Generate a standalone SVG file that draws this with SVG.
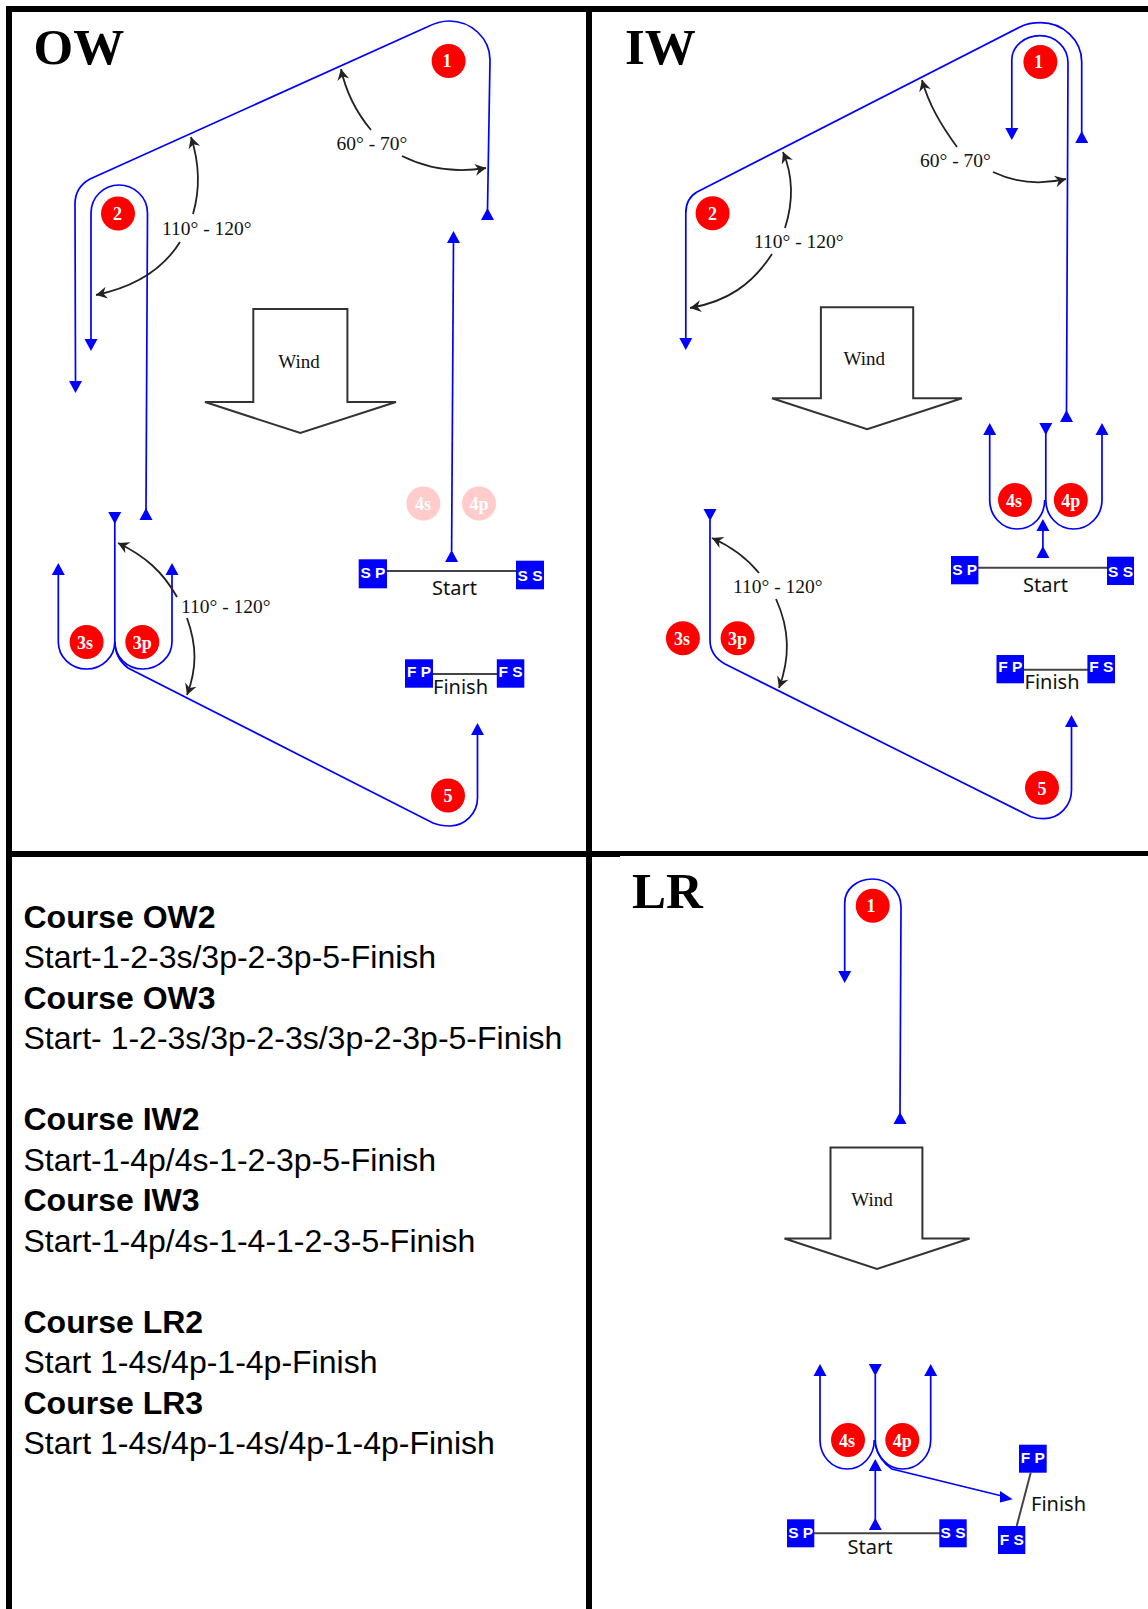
<svg xmlns="http://www.w3.org/2000/svg" width="1148" height="1609" viewBox="0 0 1148 1609">
<style>
.f{fill:#000}
.b{fill:none;stroke:#0000ff;stroke-width:1.7}
.k{fill:none;stroke:#222;stroke-width:1.8;marker-end:url(#o)}
.w{fill:#fff;stroke:#333;stroke-width:2}
.m{fill:#0000ff}
.c{fill:#ff0000}
.n{font-family:"Liberation Serif",serif;font-size:18px;font-weight:bold;fill:#fff;text-anchor:middle}
.a{font-family:"Liberation Serif",serif;font-size:19.5px;fill:#111}
.wt{font-family:"Liberation Serif",serif;font-size:19px;fill:#111;text-anchor:middle}
.t{font-family:"Liberation Serif",serif;font-size:51px;font-weight:bold;fill:#000}
.l{font-family:"Noto Sans",sans-serif;font-size:20px;fill:#111}
.q{font-family:"Liberation Sans",sans-serif;font-size:15.5px;font-weight:bold;fill:#fff;text-anchor:middle}
.s{stroke:#444;stroke-width:2}
.h{font-family:"Liberation Sans",sans-serif;font-size:32px;fill:#000}
.hb{font-weight:bold}
</style>
<defs>
<marker id="o" markerUnits="userSpaceOnUse" markerWidth="15" markerHeight="15" refX="12" refY="6.500" orient="auto"><path d="M1 0.500L12 6.500L1 12.500L4.500 6.500Z" fill="#222"/></marker>
<path id="up" d="M0 0L-6.500 12H6.500Z" class="m"/>
<path id="dn" d="M0 12L-6.500 0H6.500Z" class="m"/>
</defs>
<rect width="1148" height="1609" fill="#fff"/>
<g id="frame">
<rect class="f" x="6" y="6" width="1142" height="6"/>
<rect class="f" x="6" y="6" width="6" height="1603"/>
<rect class="f" x="586" y="6" width="6" height="1603"/>
<rect class="f" x="6" y="851" width="614" height="6"/>
<rect class="f" x="620" y="851" width="528" height="5"/>
</g>
<g id="connectors">
<!-- OW -->
<path class="b" d="M487.500 210L490 60C490 38 471 21 449 21C441 21 433 24 427 27L90 179C81 184 75 193 75 204L75.500 382"/>
<path class="b" d="M146 510L147.500 213C147.500 197 134 185 119 185C104 185 91 197 91 213L91 340"/>
<path class="b" d="M453.500 241L451.600 551"/>
<path class="b" d="M58.300 574V641.700C58.300 657 71 669 86.600 669C102 669 114.800 657 114.800 641.700V520"/>
<path class="b" d="M114.800 641.700C114.800 657 127 669 143 669C158 669 172 657 172 641.700V574"/>
<path class="b" d="M114.800 641.700C115 653 120 662 128 668L433 823C438 825 444 826 449.700 826C465 826 477.500 813 477.500 798V733"/>
<use href="#up" x="487.500" y="208"/><use href="#dn" x="91" y="339"/><use href="#dn" x="75.500" y="381"/>
<use href="#up" x="453.500" y="231"/><use href="#up" x="451.600" y="550"/><use href="#up" x="146" y="508"/>
<use href="#dn" x="114.800" y="512"/><use href="#up" x="58.300" y="563"/><use href="#up" x="172" y="563"/><use href="#up" x="477.500" y="723"/>
<path class="k" d="M371 130C356 112 346 92 341 69"/>
<path class="k" d="M402 156C428 169 456 173 486 168"/>
<path class="k" d="M193 214C200 190 200 165 191 137"/>
<path class="k" d="M180 242C162 271 134 287 96 295"/>
<path class="k" d="M177 597C163 572 145 556 118 543"/>
<path class="k" d="M187 618C197 646 197 668 187 695"/>
<!-- IW -->
<path class="b" d="M1081.700 133V61.700C1081.700 40 1063 22.700 1040.700 22.700C1033 22.700 1026 24 1020 27L697 192C690 196 685.800 204 685.800 213V340"/>
<path class="b" d="M1011.800 130V60C1011.800 46 1025 35.700 1040 35.700C1055 35.700 1068 47 1068 63L1066.500 413"/>
<path class="b" d="M989.700 433V500C989.700 516 1002 529 1017 529C1033 529 1044.700 516 1044.700 500"/>
<path class="b" d="M1045.800 425V500C1045.800 516 1058 529 1073.700 529C1089 529 1102 516 1102 500V433"/>
<path class="b" d="M1042.900 530V548"/>
<path class="b" d="M710 520V640C710 651 716 659 725 664L1031 816.700C1035 818 1039 818.700 1043.600 818.700C1059 818.700 1071.500 806 1071.500 790V725"/>
<use href="#up" x="1081.700" y="131"/><use href="#dn" x="1011.800" y="128"/><use href="#up" x="1066.500" y="410"/><use href="#dn" x="685.800" y="338"/>
<use href="#up" x="989.700" y="423"/><use href="#dn" x="1045.800" y="423"/><use href="#up" x="1102" y="423"/>
<use href="#up" x="1042.900" y="519"/><use href="#up" x="1042.900" y="546"/><use href="#dn" x="710" y="509"/><use href="#up" x="1071.500" y="715"/>
<path class="k" d="M957 147C941 125 929 105 922 80"/>
<path class="k" d="M993 172C1016 183 1040 185 1066 179"/>
<path class="k" d="M785 228C793 203 794 178 783 152"/>
<path class="k" d="M772 254C752 285 726 302 690 308"/>
<path class="k" d="M759 573C746 557 730 546 712 538"/>
<path class="k" d="M776 599C790 630 790 658 779 688"/>
<!-- LR -->
<path class="b" d="M844.700 972V903C844.700 889 857 879 872.300 879C889 879 901 892 901 906.700L900 1114"/>
<path class="b" d="M820 1375V1440C820 1456 832 1469 847.300 1469C862 1469 874.300 1456 874.300 1440"/>
<path class="b" d="M875.300 1375V1440C875.300 1456 888 1469 902.700 1469C918 1469 930.700 1456 930.700 1440V1375"/>
<path class="b" d="M875.300 1445C878 1456 883 1463 892 1469L1002 1496"/>
<path class="b" d="M875.300 1471V1520"/>
<use href="#dn" x="844.700" y="971"/><use href="#up" x="900" y="1112"/>
<use href="#up" x="820" y="1364"/><use href="#dn" x="875.300" y="1364"/><use href="#up" x="930.700" y="1364"/>
<use href="#up" x="875.300" y="1459"/><use href="#up" x="875.300" y="1518"/>
<path class="m" d="M1012.700 1499.300L1000 1491L1000 1502.500Z"/>
</g>
<g id="titles">
<text class="t" x="33.500" y="64">OW</text>
<text class="t" x="625" y="64">IW</text>
<text class="t" x="632" y="908">LR</text>
</g>
<g id="angles">
<text class="a" x="162" y="235">110° - 120°</text>
<text class="a" x="336.500" y="149.500">60° - 70°</text>
<text class="a" x="181" y="612.700">110° - 120°</text>
<text class="a" x="920" y="166.500">60° - 70°</text>
<text class="a" x="754" y="248">110° - 120°</text>
<text class="a" x="733" y="592.700">110° - 120°</text>
</g>
<g id="wind-ow"><path class="w" d="M253.300 309H347.400V402H396L300.300 433L205 402H253.300Z"/><text class="wt" x="299" y="368">Wind</text></g>
<g id="wind-iw"><path class="w" d="M820.900 307.300H913.200V398.300H962L867.200 429.300L772 398.300H820.900Z"/><text class="wt" x="864.300" y="365">Wind</text></g>
<g id="wind-lr"><path class="w" d="M830.500 1147.500H922.400V1238.500H969.600L877 1269L784.500 1238.500H830.500Z"/><text class="wt" x="872" y="1205.600">Wind</text></g>
<g id="ow-1"><circle class="c" cx="448.600" cy="61" r="17"/><text class="n" x="447" y="67">1</text></g>
<g id="ow-2"><circle class="c" cx="118" cy="213.500" r="17"/><text class="n" x="117.500" y="219.500">2</text></g>
<g id="ow-3s"><circle class="c" cx="86.600" cy="642" r="17"/><text class="n" x="85" y="648.500">3s</text></g>
<g id="ow-3p"><circle class="c" cx="142.300" cy="642" r="17"/><text class="n" x="142.300" y="648.500">3p</text></g>
<g id="ow-4s" opacity="0.2"><circle class="c" cx="423.400" cy="503.500" r="17"/><text class="n" x="423" y="510">4s</text></g>
<g id="ow-4p" opacity="0.2"><circle class="c" cx="479" cy="503.500" r="17"/><text class="n" x="479" y="510">4p</text></g>
<g id="ow-5"><circle class="c" cx="448" cy="795.500" r="17"/><text class="n" x="448" y="802">5</text></g>
<g id="iw-1"><circle class="c" cx="1040.400" cy="62" r="17"/><text class="n" x="1038.500" y="68">1</text></g>
<g id="iw-2"><circle class="c" cx="712.600" cy="213.300" r="17"/><text class="n" x="712.600" y="219.500">2</text></g>
<g id="iw-3s"><circle class="c" cx="682.900" cy="638.300" r="17"/><text class="n" x="682" y="645">3s</text></g>
<g id="iw-3p"><circle class="c" cx="737.600" cy="638.300" r="17"/><text class="n" x="737.600" y="645">3p</text></g>
<g id="iw-4s"><circle class="c" cx="1015" cy="500" r="17"/><text class="n" x="1014" y="506.500">4s</text></g>
<g id="iw-4p"><circle class="c" cx="1070.800" cy="500" r="17"/><text class="n" x="1070.800" y="506.500">4p</text></g>
<g id="iw-5"><circle class="c" cx="1042" cy="787.700" r="17"/><text class="n" x="1042" y="794.500">5</text></g>
<g id="lr-1"><circle class="c" cx="872.700" cy="905.700" r="17"/><text class="n" x="871" y="912">1</text></g>
<g id="lr-4s"><circle class="c" cx="848" cy="1440" r="17"/><text class="n" x="847" y="1446.500">4s</text></g>
<g id="lr-4p"><circle class="c" cx="902.300" cy="1440" r="17"/><text class="n" x="902.300" y="1446.500">4p</text></g>
<g id="ow-start">
<line class="s" x1="387" y1="571" x2="516" y2="571"/>
<rect class="m" x="358.700" y="559.300" width="28.300" height="29"/><text class="q" x="372.900" y="578">S P</text>
<rect class="m" x="516" y="560.700" width="28" height="28.600"/><text class="q" x="530" y="581">S S</text>
<text class="l" x="432" y="595">Start</text>
</g>
<g id="ow-finish">
<line class="s" x1="433" y1="674" x2="497" y2="674"/>
<rect class="m" x="405" y="659.300" width="28" height="28.400"/><text class="q" x="419" y="677">F P</text>
<rect class="m" x="496.800" y="659.300" width="27.500" height="28.400"/><text class="q" x="510.500" y="677">F S</text>
<text class="l" x="433" y="694">Finish</text>
</g>
<g id="iw-start">
<line class="s" x1="978" y1="567.700" x2="1107" y2="567.700"/>
<rect class="m" x="951" y="556" width="27.400" height="28.300"/><text class="q" x="964.700" y="575">S P</text>
<rect class="m" x="1107" y="556.700" width="27" height="28.300"/><text class="q" x="1120.500" y="577">S S</text>
<text class="l" x="1023" y="591.700">Start</text>
</g>
<g id="iw-finish">
<line class="s" x1="1024" y1="669.700" x2="1088" y2="669.700"/>
<rect class="m" x="996.500" y="655" width="27.500" height="28.300"/><text class="q" x="1010.200" y="672.300">F P</text>
<rect class="m" x="1087.400" y="655" width="27.600" height="28.300"/><text class="q" x="1101.200" y="672.300">F S</text>
<text class="l" x="1024.500" y="689.300">Finish</text>
</g>
<g id="lr-start">
<line class="s" x1="814" y1="1533.300" x2="940" y2="1533.300"/>
<rect class="m" x="787" y="1519.300" width="27.300" height="28"/><text class="q" x="800.700" y="1538">S P</text>
<rect class="m" x="939.300" y="1519.300" width="27.400" height="28"/><text class="q" x="953" y="1538">S S</text>
<text class="l" x="847.500" y="1554">Start</text>
</g>
<g id="lr-finish">
<line class="s" x1="1030.700" y1="1472.700" x2="1016.700" y2="1526"/>
<rect class="m" x="1019" y="1444.700" width="27.700" height="28"/><text class="q" x="1032.800" y="1463.300">F P</text>
<rect class="m" x="998" y="1526" width="27.300" height="28"/><text class="q" x="1011.700" y="1545">F S</text>
<text class="l" x="1031" y="1510.700">Finish</text>
</g>
<g id="course-list">
<text class="h hb" x="23.500" y="927.500">Course OW2</text>
<text class="h" x="23.500" y="968">Start-1-2-3s/3p-2-3p-5-Finish</text>
<text class="h hb" x="23.500" y="1008.500">Course OW3</text>
<text class="h" x="23.500" y="1049">Start- 1-2-3s/3p-2-3s/3p-2-3p-5-Finish</text>
<text class="h hb" x="23.500" y="1130">Course IW2</text>
<text class="h" x="23.500" y="1170.500">Start-1-4p/4s-1-2-3p-5-Finish</text>
<text class="h hb" x="23.500" y="1211">Course IW3</text>
<text class="h" x="23.500" y="1251.500">Start-1-4p/4s-1-4-1-2-3-5-Finish</text>
<text class="h hb" x="23.500" y="1332.500">Course LR2</text>
<text class="h" x="23.500" y="1373">Start 1-4s/4p-1-4p-Finish</text>
<text class="h hb" x="23.500" y="1413.500">Course LR3</text>
<text class="h" x="23.500" y="1454">Start 1-4s/4p-1-4s/4p-1-4p-Finish</text>
</g>
</svg>
